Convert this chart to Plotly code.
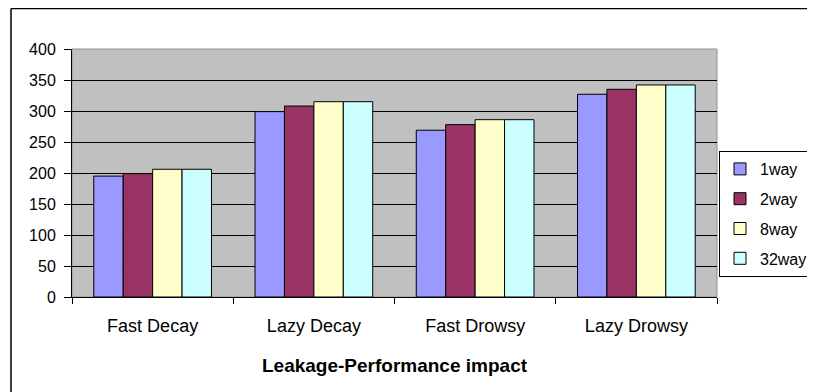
import plotly.graph_objects as go

categories = ["Fast Decay", "Lazy Decay", "Fast Drowsy", "Lazy Drowsy"]
series_names = ["1way", "2way", "8way", "32way"]
way1 = [195, 299, 269, 327]
way2 = [199, 308, 278, 335]
way8 = [206, 315, 286, 342]
way32 = [206, 315, 286, 342]
series_values = [way1, way2, way8, way32]
colors = ["#9999FF", "#993366", "#FFFFCC", "#CCFFFF"]
y_ticks = [0, 50, 100, 150, 200, 250, 300, 350, 400]

FONT = "Liberation Sans, Arial, sans-serif"

fig = go.Figure()
for name, vals, col in zip(series_names, series_values, colors):
    fig.add_trace(go.Bar(
        x=categories, y=vals, name=name, legendgroup=name,
        marker=dict(color=col, line=dict(color="black", width=1)),
    ))

# page body has an 8px margin; figure sized to fit the window
W, H = 807, 384
ml, mr, mt, mb = 64, 98, 41, 95
pw, ph = W - ml - mr, H - mt - mb

fig.update_layout(
    width=W, height=H,
    margin=dict(l=ml, r=mr, t=mt, b=mb, autoexpand=False),
    paper_bgcolor="white", plot_bgcolor="#C0C0C0",
    barmode="group", bargap=0.27, bargroupgap=0,
    font=dict(family=FONT, size=16, color="black"),
    showlegend=True,
    legend=dict(
        xref="container", yref="container",
        x=711 / W, y=1 - 143 / H, xanchor="left", yanchor="top",
        bgcolor="white", bordercolor="black", borderwidth=1,
        tracegroupgap=6, font=dict(size=16),
    ),
    xaxis=dict(
        showline=True, linecolor="black", linewidth=1,
        ticks="outside", ticklen=6, tickcolor="black", tickson="boundaries",
        showgrid=False, ticklabelstandoff=12,
        title=dict(text="<b>Leakage-Performance impact</b>", font=dict(size=19), standoff=24),
        tickfont=dict(size=18),
    ),
    yaxis=dict(
        range=[0, 400], tickvals=y_ticks,
        showline=True, linecolor="black", linewidth=1,
        ticks="outside", ticklen=7, tickcolor="black",
        showgrid=True, gridcolor="black", gridwidth=1,
        zeroline=False, tickfont=dict(size=16), ticklabelstandoff=5,
    ),
    shapes=[
        dict(type="rect", xref="paper", yref="paper", x0=0, x1=1, y0=0, y1=1,
             line=dict(color="#909090", width=1), layer="below"),
        dict(type="line", xref="paper", yref="paper",
             x0=(3 - ml) / pw, x1=(W + 5 - ml) / pw,
             y0=1 + (mt - 0.5) / ph, y1=1 + (mt - 0.5) / ph,
             line=dict(color="black", width=1.5)),
        dict(type="line", xref="paper", yref="paper",
             x0=(3 - ml) / pw, x1=(3 - ml) / pw,
             y0=1 + (mt - 0.5) / ph, y1=-(mb + 5) / ph,
             line=dict(color="black", width=1.5)),
    ],
)

fig.write_html("out.html")
